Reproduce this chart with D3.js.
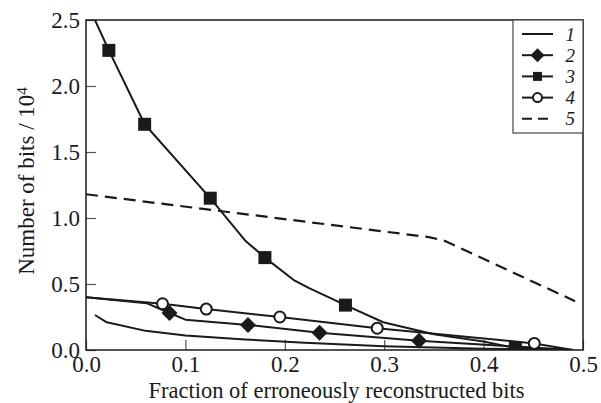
<!DOCTYPE html>
<html>
<head>
<meta charset="utf-8">
<script src="https://cdn.jsdelivr.net/npm/d3@7"></script>
<style>
  body { margin: 0; background: #fff; }
  text { font-family: "Liberation Serif", "Times New Roman", serif; fill: #1a1a1a; }
</style>
</head>
<body>
<svg id="chart"></svg>
<script>
// curve data (x = fraction, y = bits / 10^4)
const curve1 = [[0.009,0.265],[0.021,0.21],[0.06,0.145],[0.1,0.11],[0.16,0.08],[0.22,0.055],[0.3,0.028],[0.4,0.01],[0.49,0]];
const curve2 = [[0,0.40],[0.061,0.355],[0.084,0.28],[0.1,0.23],[0.163,0.19],[0.235,0.13],[0.335,0.07],[0.49,0]];
const marks2 = [[0.084,0.28],[0.163,0.19],[0.235,0.13],[0.335,0.07]];
const curve3 = [[0.009,2.5],[0.023,2.27],[0.059,1.71],[0.125,1.15],[0.16,0.83],[0.18,0.70],[0.209,0.53],[0.224,0.47],[0.261,0.34],[0.299,0.21],[0.35,0.12],[0.4,0.065],[0.432,0.015],[0.49,0]];
const marks3 = [[0.023,2.27],[0.059,1.71],[0.125,1.15],[0.18,0.70],[0.261,0.34],[0.432,0.015]];
const curve4 = [[0,0.40],[0.077,0.35],[0.121,0.31],[0.195,0.25],[0.293,0.165],[0.451,0.05],[0.49,0]];
const marks4 = [[0.077,0.35],[0.121,0.31],[0.195,0.25],[0.293,0.165],[0.451,0.05]];
const curve5 = [[0,1.18],[0.345,0.855],[0.36,0.83],[0.492,0.37]];

const xTicks = [0, 0.1, 0.2, 0.3, 0.4, 0.5];
const yTicks = [0, 0.5, 1.0, 1.5, 2.0, 2.5];
const legendLabels = ['1', '2', '3', '4', '5'];

const width = 601, height = 403;
const margin = {top: 20, right: 18, bottom: 53, left: 86};
const innerW = width - margin.left - margin.right;
const innerH = height - margin.top - margin.bottom;
const ink = '#1a1a1a';
const serif = '"Liberation Serif", "Times New Roman", serif';

const svg = d3.select('#chart').attr('width', width).attr('height', height);
const chart = svg.append('g').attr('transform', `translate(${margin.left}, ${margin.top})`);

const xscale = d3.scaleLinear().domain([0, 0.5]).range([0, innerW]);
const yscale = d3.scaleLinear().domain([0, 2.5]).range([innerH, 0]);

chart.append('clipPath').attr('id', 'clip')
    .append('rect').attr('width', innerW).attr('height', innerH);

// axes, ticks point inward
const xaxis = d3.axisBottom(xscale).tickValues(xTicks).tickSize(-10).tickPadding(6).tickFormat(d3.format('.1f'));
const yaxis = d3.axisLeft(yscale).tickValues(yTicks).tickSize(-10).tickPadding(6).tickFormat(d3.format('.1f'));

const xg = chart.append('g').attr('transform', `translate(0, ${innerH})`).call(xaxis);
const yg = chart.append('g').call(yaxis);
[xg, yg].forEach(g => {
    g.attr('font-family', serif).attr('font-size', 23);
    g.select('.domain').remove();
    g.selectAll('.tick line').attr('stroke', '#555').attr('stroke-width', 1.2);
    g.selectAll('.tick text').attr('fill', ink).style('font-size', '23px').style('font-family', serif);
});
yg.selectAll('.tick text').attr('dy', '0.34em');

chart.append('rect')
    .attr('width', innerW).attr('height', innerH)
    .attr('fill', 'none').attr('stroke', ink).attr('stroke-width', 1.5);

const line = d3.line().x(d => xscale(d[0])).y(d => yscale(d[1]));
const plot = chart.append('g').attr('clip-path', 'url(#clip)');

[curve1, curve2, curve3, curve4].forEach(c => {
    plot.append('path').attr('d', line(c)).attr('fill', 'none')
        .attr('stroke', ink).attr('stroke-width', 2).attr('stroke-linejoin', 'round');
});
plot.append('path').attr('d', line(curve5)).attr('fill', 'none')
    .attr('stroke', ink).attr('stroke-width', 2.2).attr('stroke-dasharray', '12,7');

const diamond = s => `M0,${-s}L${s},0L0,${s}L${-s},0Z`;

plot.selectAll('.m2').data(marks2).join('path')
    .attr('transform', d => `translate(${xscale(d[0])},${yscale(d[1])})`)
    .attr('d', diamond(8)).attr('fill', ink);
plot.selectAll('.m3').data(marks3).join('rect')
    .attr('x', d => xscale(d[0]) - 6.5).attr('y', d => yscale(d[1]) - 6.5)
    .attr('width', 13).attr('height', 13).attr('fill', ink);
plot.selectAll('.m4').data(marks4).join('circle')
    .attr('cx', d => xscale(d[0])).attr('cy', d => yscale(d[1]))
    .attr('r', 5.5).attr('fill', '#fff').attr('stroke', ink).attr('stroke-width', 2);

// legend
const lg = chart.append('g').attr('transform', `translate(${innerW - 70}, 0)`);
lg.append('rect').attr('width', 70).attr('height', 113)
    .attr('fill', '#fff').attr('stroke', '#444').attr('stroke-width', 1.2);
legendLabels.forEach((lab, i) => {
    const y = 14 + i * 21.2;
    const row = lg.append('g').attr('transform', `translate(0, ${y})`);
    row.append('line').attr('x1', 9).attr('x2', 40).attr('stroke', ink).attr('stroke-width', 2)
        .attr('stroke-dasharray', i === 4 ? '10,6' : null);
    if (i === 1) row.append('path').attr('transform', 'translate(24.5,0)').attr('d', diamond(7)).attr('fill', ink);
    if (i === 2) row.append('rect').attr('x', 20).attr('y', -4.5).attr('width', 9).attr('height', 9).attr('fill', ink);
    if (i === 3) row.append('circle').attr('cx', 24.5).attr('r', 4.5).attr('fill', '#fff').attr('stroke', ink).attr('stroke-width', 2);
    row.append('text').attr('x', 62).attr('dy', '0.35em').attr('text-anchor', 'end')
        .style('font-size', '19px').style('font-style', 'italic').text(lab);
});

// axis titles
svg.append('text')
    .attr('x', margin.left + innerW / 2 + 2).attr('y', 398)
    .attr('text-anchor', 'middle').style('font-size', '22.5px')
    .text('Fraction of erroneously reconstructed bits');

const yt = svg.append('text')
    .attr('transform', 'rotate(-90)')
    .attr('x', -181).attr('y', 34)
    .attr('text-anchor', 'middle').style('font-size', '23px');
yt.append('tspan').text('Number of bits / 10');
yt.append('tspan').attr('dy', '-0.45em').style('font-size', '15px').text('4');
</script>
</body>
</html>
